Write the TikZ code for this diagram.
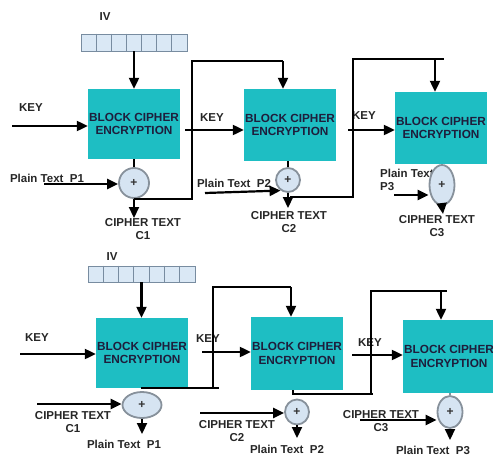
\documentclass[tikz,border=0pt]{standalone}
\usepackage{fontspec}
\setmainfont{Liberation Sans}
\usetikzlibrary{arrows.meta,shapes.geometric,calc}
\definecolor{blkfill}{RGB}{30,190,195}
\definecolor{blktxt}{RGB}{30,30,60}
\definecolor{xorfill}{RGB}{214,228,242}
\definecolor{xorbd}{RGB}{135,145,155}
\definecolor{ivfill}{RGB}{218,232,245}
\definecolor{ivbd}{RGB}{120,140,160}
\begin{document}
\begin{tikzpicture}[x=1pt,y=-1pt,
  blk/.style={fill=blkfill,draw=none,minimum width=92pt,minimum height=70pt,inner sep=0pt,align=center,
    font=\bfseries\fontsize{11.8}{13.5}\selectfont,text=blktxt},
  xr/.style={ellipse,fill=xorfill,draw=xorbd,line width=1.8pt,inner sep=0pt,font=\bfseries\fontsize{12}{12}\selectfont,text=black!80},
  lbl/.style={font=\bfseries\fontsize{11.5}{13}\selectfont,inner sep=0pt,align=center,text=black!85},
  ivreg/.style={fill=ivfill,draw=ivbd,line width=0.6pt,minimum width=106pt,minimum height=17pt,inner sep=0pt},
  arr/.style={-{Triangle[length=11pt,width=10pt]},line width=2.2pt},
  ln/.style={line width=2.2pt},
  thin/.style={line width=1.2pt,draw=black!80}]
\useasboundingbox (0,0) rectangle (493,455);

% ================= TOP ROW (encryption) =================
\node[lbl] (ivTl) at (105,17) {IV};
\node[ivreg] (ivT) at (134,42.5) {};
\foreach \i in {1,...,6} \draw[ivbd,line width=0.6pt] ($(ivT.north west)+(\i*106/7,0)$) -- ++(0,17);

\node[blk] (bT1) at (134,124) {BLOCK CIPHER\\ENCRYPTION};
\node[blk,minimum height=72pt] (bT2) at (290,125) {BLOCK CIPHER\\ENCRYPTION};
\node[blk,minimum height=72pt] (bT3) at (441,128) {BLOCK CIPHER\\ENCRYPTION};

\node[lbl] (keyT1) at (31,108) {KEY};
\node[lbl] (keyT2) at (212,118) {KEY};
\node[lbl] (keyT3) at (364,116) {KEY};

\node[lbl] (ptT1) at (47,178) {Plain Text\ \ P1};
\node[lbl] (ptT2) at (234,183) {Plain Text\ \ P2};
\node[lbl,align=left,anchor=west] (ptT3) at (380,180) {Plain Text\\P3};

\node[xr,minimum width=30pt,minimum height=30pt] (xT1) at (134,183) {+};
\node[xr,minimum width=24pt,minimum height=24pt] (xT2) at (288,180) {+};
\node[xr,minimum width=25pt,minimum height=40pt] (xT3) at (442,185) {+};

\node[lbl] (ctT1) at (143,229) {CIPHER TEXT\\C1};
\node[lbl] (ctT2) at (289,222) {CIPHER TEXT\\C2};
\node[lbl] (ctT3) at (437,226) {CIPHER TEXT\\C3};

% IV to block
\draw[arr] (ivT.south) -- (bT1.north);
% key arrows
\coordinate (kT1) at (12,126);
\draw[arr] (kT1) -- (kT1 -| bT1.west);
\coordinate (kT2) at (185,130);
\draw[arr] (kT2) -- (kT2 -| bT2.west);
\coordinate (kT3) at (348,130);
\draw[arr] (kT3) -- (kT3 -| bT3.west);
% block to xor
\draw[ln] (bT1.south) -- (xT1.north);
\draw[ln] (bT2.south -| xT2.north) -- (xT2.north);
% plaintext inputs
\coordinate (pT1) at (44,184);
\draw[arr] (pT1) -- (pT1 -| xT1.west);
\coordinate (pT2) at (205,193);
\draw[arr] (pT2) -- (xT2.235);
\coordinate (pT3) at (394,195);
\draw[arr] (pT3) -- (pT3 -| xT3.west);
% outputs
\coordinate (oT1) at (134,218);
\draw[arr] (xT1.south) -- (oT1);
\coordinate (oT2) at (288,208);
\draw[arr] (xT2.south) -- (oT2);
\coordinate (oT3) at (443,214);
\draw[arr] (xT3.south) -- (oT3);
% feedback lines
\coordinate (fT1) at (134,199);
\coordinate (tT2) at (283,61);
\draw[ln] (fT1) -- (192,199) |- (tT2);
\draw[arr] (tT2) -- (tT2 |- bT2.north);
\coordinate (fT2) at (290,197);
\coordinate (tT3) at (435,59);
\draw[ln] (fT2) -- (353,197) |- (444,59);
\draw[arr] (tT3) -- (tT3 |- bT3.north);

% ================= BOTTOM ROW (decryption) =================
\node[lbl] (ivBl) at (112,257) {IV};
\node[ivreg,minimum width=107pt,minimum height=16pt] (ivB) at (141.5,274) {};
\foreach \i in {1,...,6} \draw[ivbd,line width=0.6pt] ($(ivB.north west)+(\i*107/7,0)$) -- ++(0,16);

\node[blk] (bB1) at (142,353) {BLOCK CIPHER\\ENCRYPTION};
\node[blk,minimum height=73pt] (bB2) at (297,353.5) {BLOCK CIPHER\\ENCRYPTION};
\node[blk,minimum height=73pt] (bB3) at (449,356.5) {BLOCK CIPHER\\ENCRYPTION};

\node[lbl] (keyB1) at (37,338) {KEY};
\node[lbl] (keyB2) at (208,339) {KEY};
\node[lbl] (keyB3) at (370,343) {KEY};

\node[lbl] (ctB1) at (73,422) {CIPHER TEXT\\C1};
\node[lbl] (ctB2) at (237,431) {CIPHER TEXT\\C2};
\node[lbl] (ctB3) at (381,421) {CIPHER TEXT\\C3};

\node[xr,minimum width=39pt,minimum height=26pt] (xB1) at (142,405) {+};
\node[xr,minimum width=24pt,minimum height=25pt] (xB2) at (297,412) {+};
\node[xr,minimum width=25pt,minimum height=32pt] (xB3) at (450,412) {+};

\node[lbl] (ptB1) at (124,444) {Plain Text\ \ P1};
\node[lbl] (ptB2) at (287,449) {Plain Text\ \ P2};
\node[lbl] (ptB3) at (433,450) {Plain Text\ \ P3};

% IV to block
\draw[arr] (ivB.south) -- (ivB.south |- bB1.north);
% key arrows
\coordinate (kB1) at (20,354);
\draw[arr] (kB1) -- (kB1 -| bB1.west);
\coordinate (kB2) at (202,352);
\draw[arr] (kB2) -- (kB2 -| bB2.west);
\coordinate (kB3) at (352,355);
\draw[arr] (kB3) -- (kB3 -| bB3.west);
% ciphertext inputs
\coordinate (cB1) at (37,404);
\draw[arr] (cB1) -- (cB1 -| xB1.west);
\coordinate (cB2) at (200,413);
\draw[arr] (cB2) -- (cB2 -| xB2.west);
\coordinate (cB3) at (360,420);
\draw[arr] (cB3) -- (cB3 -| xB3.west);
% outputs
\coordinate (oB1) at (142,434);
\draw[arr] (xB1.south) -- (oB1);
\coordinate (oB2) at (297,438);
\draw[arr] (xB2.south) -- (oB2);
\coordinate (oB3) at (450,440);
\draw[arr] (xB3.south) -- (oB3);
% block3 to xor3 thin link
\draw[thin,draw=xorbd] (bB3.south -| xB3.north) -- (xB3.north);
% feedback lines
\coordinate (fB1) at (141,388);
\draw[ln] (fB1) -- (219,388);
\coordinate (tB2) at (291,287);
\draw[ln] (213,388) -- (213,287) -- (tB2);
\draw[arr] (tB2) -- (tB2 |- bB2.north);
\coordinate (fB2) at (293,390);
\draw[ln] (fB2) -- (293,394) -- (373,394);
\coordinate (tB3) at (441,291);
\draw[ln] (371,394) -- (371,291) -- (447,291);
\draw[arr] (tB3) -- (tB3 |- bB3.north);
\end{tikzpicture}
\end{document}
